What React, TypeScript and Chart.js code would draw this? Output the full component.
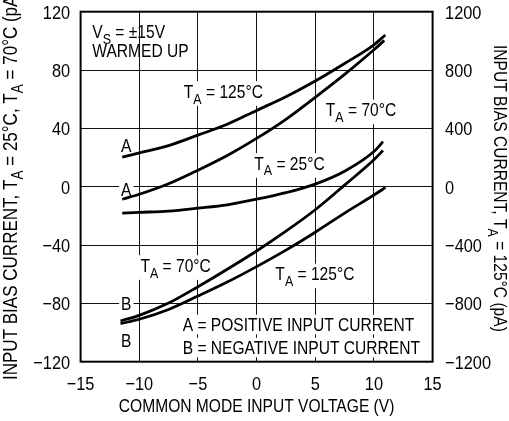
import React, { useEffect, useRef } from "react";
import { Chart, registerables } from "chart.js";
Chart.register(...registerables);

const FONT = '"Liberation Sans", Arial, sans-serif';
const FS = 19;
const SX = 0.82; // horizontal condensing of text
const TSX = 0.86; // condensing for tick numbers

const xTicks = [-15, -10, -5, 0, 5, 10, 15];
const leftTicks = [-120, -80, -40, 0, 40, 80, 120];
const rightTicks = [-1200, -800, -400, 0, 400, 800, 1200];

// A curves (positive input current)
const vA125 = [-11.45, -10, -7.5, -5, -2.5, 0, 2.5, 5, 7.5, 10, 10.97];
const iA125 = [203, 232, 282, 354, 428, 523, 617, 725, 845, 973, 1040]; // right axis (pA)
const vA70 = [-11.45, -10, -7.5, -5, -2.5, 0, 2.5, 5, 7.5, 10, 10.88];
const iA70 = [-8.6, -5.2, 2, 11.3, 21.4, 33.1, 46.2, 61.3, 77, 93.9, 100.2];
const vA25 = [-11.45, -10, -7.5, -5, -2.5, 0, 2.5, 5, 7.5, 10, 10.77];
const iA25 = [-18.1, -17.6, -16.7, -14.7, -12.4, -8.6, -4.1, 1.8, 10.6, 24.1, 30.9];
// B curves (negative input current)
const vB70 = [-11.6, -10, -7.5, -5, -2.5, 0, 2.5, 5, 7.5, 10, 10.77];
const iB70 = [-92.1, -88.2, -79.8, -68.6, -56.6, -44.1, -30.5, -15.8, 1.1, 18.5, 24.8];
const vB125 = [-11.6, -10, -7.5, -5, -2.5, 0, 2.5, 5, 7.5, 10, 10.99];
const iB125 = [-939, -909, -842, -750, -654, -548, -435, -312, -181, -57, -5]; // right axis (pA)

type Part = { t: string; sub?: boolean };
const TA = (rest: string): Part[] => [{ t: "T" }, { t: "A", sub: true }, { t: rest }];

// annotation texts: left edge x (V), cap-centre y (left-axis pA)
const notes: { parts: Part[]; x: number; y: number; box: boolean }[] = [
  { parts: [{ t: "V" }, { t: "S", sub: true }, { t: " = ±15V" }], x: -14, y: 106.5, box: false },
  { parts: [{ t: "WARMED UP" }], x: -14, y: 93.4, box: false },
  { parts: TA(" = 125°C"), x: -6.2, y: 65.6, box: true },
  { parts: TA(" = 70°C"), x: 5.9, y: 53, box: true },
  { parts: TA(" = 25°C"), x: -0.2, y: 16.3, box: true },
  { parts: TA(" = 70°C"), x: -9.9, y: -53.7, box: true },
  { parts: TA(" = 125°C"), x: 1.6, y: -59.5, box: true },
  { parts: [{ t: "A = POSITIVE INPUT CURRENT" }], x: -6.3, y: -94.5, box: true },
  { parts: [{ t: "B = NEGATIVE INPUT CURRENT" }], x: -6.3, y: -110.3, box: true },
  { parts: [{ t: "A" }], x: -11.55, y: 28.3, box: true },
  { parts: [{ t: "A" }], x: -11.55, y: -1.5, box: true },
  { parts: [{ t: "B" }], x: -11.55, y: -80, box: true },
  { parts: [{ t: "B" }], x: -11.55, y: -105, box: true },
];

const fmt = (v: number) => (v < 0 ? "\u2212" + Math.abs(v) : String(v));

function rawWidth(ctx: CanvasRenderingContext2D, parts: Part[], size: number) {
  let w = 0;
  for (const p of parts) {
    ctx.font = `${p.sub ? size * 0.8 : size}px ${FONT}`;
    w += ctx.measureText(p.t).width;
  }
  return w;
}
// draws parts with baseline at yBase; x is anchor per align
function drawParts(
  ctx: CanvasRenderingContext2D, parts: Part[], x: number, yBase: number,
  size: number, sx: number, align: "left" | "center" | "right"
) {
  const w = rawWidth(ctx, parts, size) * sx;
  const start = align === "left" ? x : align === "center" ? x - w / 2 : x - w;
  ctx.save();
  ctx.translate(start, yBase);
  ctx.scale(sx, 1);
  ctx.textAlign = "left";
  ctx.textBaseline = "alphabetic";
  let cx = 0;
  for (const p of parts) {
    ctx.font = `${p.sub ? size * 0.8 : size}px ${FONT}`;
    ctx.fillText(p.t, cx, p.sub ? size * 0.3 : 0);
    cx += ctx.measureText(p.t).width;
  }
  ctx.restore();
  return w;
}

const CAP = 0.716;

const mk = (vs: number[], is: number[], axis: string) => ({
  data: vs.map((v, i) => ({ x: v, y: is[i] })),
  yAxisID: axis,
  borderColor: "#000",
  borderWidth: 2.8,
  pointRadius: 0,
  fill: false,
  cubicInterpolationMode: "monotone" as const,
});

const deco = {
  id: "deco",
  beforeDatasetsDraw(chart: any) {
    const ctx = chart.ctx as CanvasRenderingContext2D;
    const xs = chart.scales.x, ys = chart.scales.y;
    ctx.save();
    for (const n of notes) {
      const px = xs.getPixelForValue(n.x);
      const py = ys.getPixelForValue(n.y);
      const hasSub = n.parts.some((p) => p.sub);
      const w = rawWidth(ctx, n.parts, FS) * SX;
      if (n.box) {
        ctx.fillStyle = "#fff";
        const top = py - (CAP * FS) / 2 - 3;
        const bot = py + (CAP * FS) / 2 + 3 + (hasSub ? 5 : 0);
        ctx.fillRect(px - 2, top, w + 4, bot - top);
      }
      ctx.fillStyle = "#000";
      drawParts(ctx, n.parts, px, py + (CAP * FS) / 2, FS, SX, "left");
    }
    ctx.restore();
  },
  afterDraw(chart: any) {
    const ctx = chart.ctx as CanvasRenderingContext2D;
    const a = chart.chartArea;
    const xs = chart.scales.x, ys = chart.scales.y, ys1 = chart.scales.y1;
    ctx.save();
    ctx.strokeStyle = "#000";
    ctx.lineWidth = 2;
    ctx.strokeRect(a.left, a.top, a.right - a.left, a.bottom - a.top);
    ctx.fillStyle = "#000";
    const half = (CAP * FS) / 2;
    // tick labels
    for (const v of leftTicks) {
      drawParts(ctx, [{ t: fmt(v) }], a.left - 10.5, ys.getPixelForValue(v) + half, FS, TSX, "right");
    }
    for (const v of rightTicks) {
      drawParts(ctx, [{ t: fmt(v) }], a.right + 12.5, ys1.getPixelForValue(v) + half, FS, TSX, "left");
    }
    for (const v of xTicks) {
      drawParts(ctx, [{ t: fmt(v) }], xs.getPixelForValue(v), 383.5 + half, FS, TSX, "center");
    }
    // bottom title
    drawParts(ctx, [{ t: "COMMON MODE INPUT VOLTAGE (V)" }], (a.left + a.right) / 2, 405.5 + half, FS, SX, "center");
    // left title (slightly larger, runs off the top edge as in the original)
    const LFS = 20.5;
    const lp: Part[] = [{ t: "INPUT BIAS CURRENT, T" }, { t: "A", sub: true }, { t: " = 25°C, T" }, { t: "A", sub: true }, { t: " = 70°C (pA)" }];
    ctx.save();
    ctx.translate(9.3 + (CAP * LFS) / 2, 380);
    ctx.rotate(-Math.PI / 2);
    drawParts(ctx, lp, 0, 0, LFS, 0.83, "left");
    ctx.restore();
    // right title
    const rp: Part[] = [{ t: "INPUT BIAS CURRENT, T" }, { t: "A", sub: true }, { t: " = 125°C (pA)" }];
    ctx.save();
    ctx.translate(501 - half, 45);
    ctx.rotate(Math.PI / 2);
    drawParts(ctx, rp, 0, 0, FS, SX, "left");
    ctx.restore();
    ctx.restore();
  },
};

export default function App() {
  const ref = useRef<HTMLCanvasElement>(null);
  useEffect(() => {
    if (!ref.current) return;
    const chart = new Chart(ref.current, {
      type: "line",
      data: {
        datasets: [
          mk(vA125, iA125, "y1"),
          mk(vA70, iA70, "y"),
          mk(vA25, iA25, "y"),
          mk(vB70, iB70, "y"),
          mk(vB125, iB125, "y1"),
        ],
      },
      options: {
        animation: false,
        responsive: true,
        maintainAspectRatio: false,
        layout: { padding: { top: 11.7, left: 0, right: 0, bottom: 0 } },
        plugins: { legend: { display: false }, tooltip: { enabled: false } },
        scales: {
          x: {
            type: "linear",
            min: xTicks[0],
            max: xTicks[xTicks.length - 1],
            afterBuildTicks: (s: any) => { s.ticks = xTicks.map((v) => ({ value: v })); },
            ticks: { display: false },
            grid: { color: "#111", lineWidth: 1, drawTicks: false },
            border: { display: false },
            afterFit: (s: any) => { s.height = 59.3; },
          },
          y: {
            type: "linear",
            position: "left",
            min: leftTicks[0],
            max: leftTicks[leftTicks.length - 1],
            afterBuildTicks: (s: any) => { s.ticks = leftTicks.map((v) => ({ value: v })); },
            ticks: { display: false },
            grid: { color: "#111", lineWidth: 1, drawTicks: false },
            border: { display: false },
            afterFit: (s: any) => { s.width = 80.6; },
          },
          y1: {
            type: "linear",
            position: "right",
            min: rightTicks[0],
            max: rightTicks[rightTicks.length - 1],
            afterBuildTicks: (s: any) => { s.ticks = rightTicks.map((v) => ({ value: v })); },
            ticks: { display: false },
            grid: { display: false, drawTicks: false },
            border: { display: false },
            afterFit: (s: any) => { s.width = 76.4; },
          },
        },
      },
      plugins: [deco],
    });
    return () => chart.destroy();
  }, []);
  return (
    <div style={{ position: "absolute", left: 0, top: 0, width: 509, height: 421, background: "#fff" }}>
      <canvas ref={ref} />
    </div>
  );
}
